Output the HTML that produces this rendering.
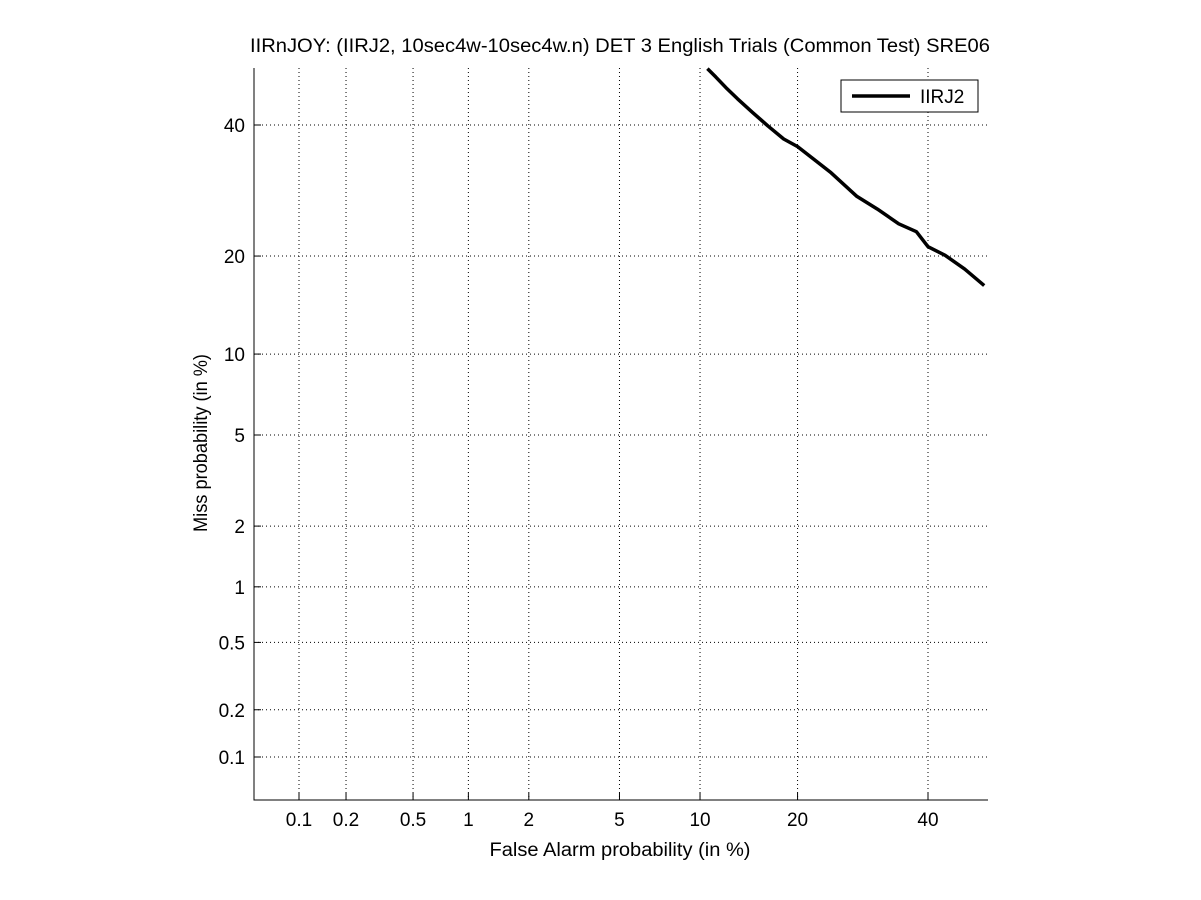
<!DOCTYPE html>
<html><head><meta charset="utf-8"><style>
html,body{margin:0;padding:0;background:#fff;}
svg{display:block;font-family:"Liberation Sans",sans-serif;}
</style></head><body>
<svg id="chart" width="1201" height="900">
<rect width="1201" height="900" fill="#fff"/>
<text x="620" y="52" font-size="19" text-anchor="middle" textLength="740" lengthAdjust="spacingAndGlyphs">IIRnJOY: (IIRJ2, 10sec4w-10sec4w.n) DET 3 English Trials (Common Test) SRE06</text>
<g id="grid"></g>
<g id="axes"></g>
<g id="series"></g>
<text x="620" y="856" font-size="19" text-anchor="middle" textLength="261" lengthAdjust="spacingAndGlyphs">False Alarm probability (in %)</text>
<text transform="translate(207,443) rotate(-90)" font-size="19" text-anchor="middle" textLength="178" lengthAdjust="spacingAndGlyphs">Miss probability (in %)</text>
<g>
<rect x="841" y="80" width="137" height="32" fill="#fff" stroke="#000" stroke-width="1"/>
<line x1="852" y1="96" x2="910" y2="96" stroke="#000" stroke-width="3.5"/>
<text x="920" y="103" font-size="19">IIRJ2</text>
</g>
</svg>
<script>
const xTicks = [0.1, 0.2, 0.5, 1, 2, 5, 10, 20, 40];
const xTickLabels = ["0.1","0.2","0.5","1","2","5","10","20","40"];
const yTicks = [0.1, 0.2, 0.5, 1, 2, 5, 10, 20, 40];
const yTickLabels = ["0.1","0.2","0.5","1","2","5","10","20","40"];
const faValues = [10.6, 11.3, 12.2, 13.3, 14.8, 16.5, 18.3, 20.0, 22.0, 24.5, 28.3, 31.5, 35.0, 38.0, 40.0, 43.0, 46.5, 50.0];
const missValues = [50.0, 48.5, 46.6, 44.6, 42.2, 39.8, 37.6, 36.3, 34.3, 32.0, 28.3, 26.4, 24.3, 23.2, 21.2, 20.1, 18.4, 16.5];

function probit(p){
  const a=[-39.6968302866538,220.946098424521,-275.928510446969,138.357751867269,-30.6647980661472,2.50662827745924];
  const b=[-54.4760987982241,161.585836858041,-155.698979859887,66.8013118877197,-13.2806815528857];
  const c=[-0.00778489400243029,-0.322396458041136,-2.40075827716184,-2.54973253934373,4.37466414146497,2.93816398269878];
  const d=[0.00778469570904146,0.32246712907004,2.445134137143,3.75440866190742];
  const pl=0.02425;let q,r;
  if(p<pl){q=Math.sqrt(-2*Math.log(p));return (((((c[0]*q+c[1])*q+c[2])*q+c[3])*q+c[4])*q+c[5])/((((d[0]*q+d[1])*q+d[2])*q+d[3])*q+1);}
  if(p>1-pl){q=Math.sqrt(-2*Math.log(1-p));return -(((((c[0]*q+c[1])*q+c[2])*q+c[3])*q+c[4])*q+c[5])/((((d[0]*q+d[1])*q+d[2])*q+d[3])*q+1);}
  q=p-0.5;r=q*q;return (((((a[0]*r+a[1])*r+a[2])*r+a[3])*r+a[4])*r+a[5])*q/(((((b[0]*r+b[1])*r+b[2])*r+b[3])*r+b[4])*r+1);
}
const L=254,R=988,T=68,B=800;
const p01=probit(0.001), p40=probit(0.4);
const xScale=(928-299)/(p40-p01);
const yScale=(757-125)/(p40-p01);
function xs(v){return Math.min(R,299+(probit(v/100)-p01)*xScale);}
function ys(v){return Math.max(T,757-(probit(v/100)-p01)*yScale);}
const NS="http://www.w3.org/2000/svg";
function mk(tag,attrs,parent,text){const e=document.createElementNS(NS,tag);for(const k in attrs)e.setAttribute(k,attrs[k]);if(text!==undefined)e.textContent=text;parent.appendChild(e);return e;}
const grid=document.getElementById('grid'),axes=document.getElementById('axes'),ser=document.getElementById('series');
xTicks.forEach((t,i)=>{const x=xs(t);
  const g=mk('line',{x1:x,y1:T,x2:x,y2:B,stroke:'#000','stroke-width':1,'stroke-dasharray':'1,3'},grid);
  
  
  const tk=mk('line',{x1:x,y1:B,x2:x,y2:B-7,stroke:'#000','stroke-width':1},axes);
  
  
  const lb=mk('text',{x:x,y:B+26,'font-size':19,'text-anchor':'middle'},axes,xTickLabels[i]);
  
  
});
yTicks.forEach((t,i)=>{const y=ys(t);
  const g=mk('line',{x1:L,y1:y,x2:R,y2:y,stroke:'#000','stroke-width':1,'stroke-dasharray':'1,3'},grid);
  
  
  const tk=mk('line',{x1:L,y1:y,x2:L+7,y2:y,stroke:'#000','stroke-width':1},axes);
  
  
  const lb=mk('text',{x:L-9,y:y+7,'font-size':19,'text-anchor':'end'},axes,yTickLabels[i]);
  
  
});
const ax=mk('path',{d:`M${L},${T}V${B}H${R}`,fill:'none',stroke:'#000','stroke-width':1},axes);


const pts=faValues.map((v,i)=>xs(v).toFixed(1)+','+ys(missValues[i]).toFixed(1)).join(' ');
const pl=mk('polyline',{points:pts,fill:'none',stroke:'#000','stroke-width':3.5,'stroke-linejoin':'round'},ser);


</script>
</body></html>
